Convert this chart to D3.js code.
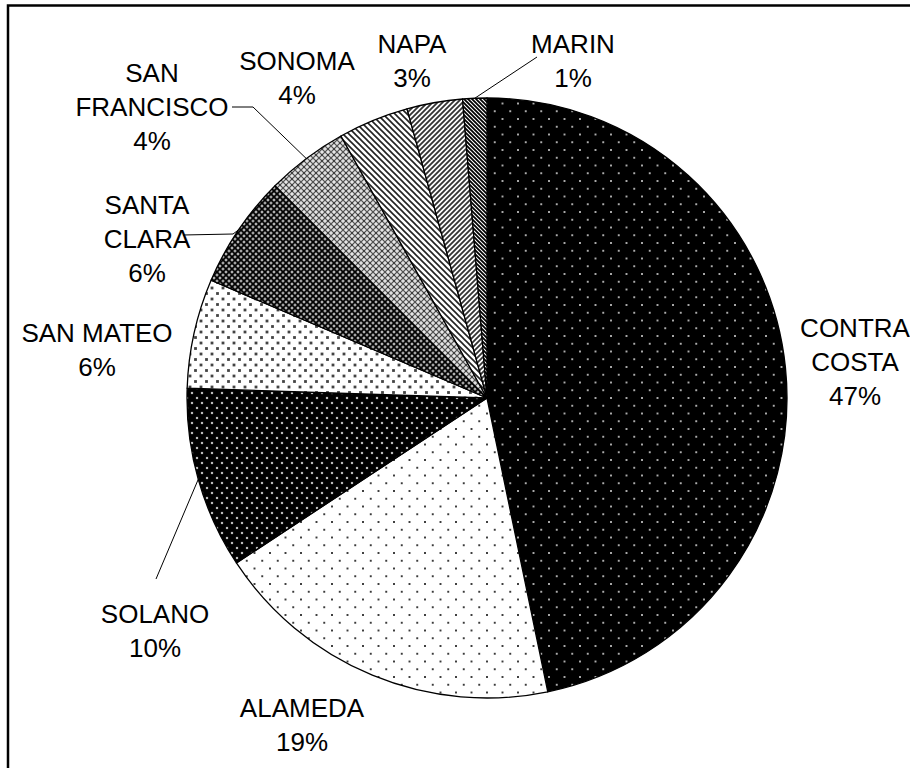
<!DOCTYPE html>
<html>
<head>
<meta charset="utf-8">
<script src="https://cdn.jsdelivr.net/npm/d3@7"></script>
<style>
  html, body { margin: 0; padding: 0; background: #fff; overflow: hidden; }
  svg { display: block; }
  text { font-family: "Liberation Sans", Arial, sans-serif; font-size: 26px; fill: #000; }
</style>
</head>
<body>
<svg id="chart" width="910" height="768"></svg>
<script>
// ---- data ----
const categories = ["CONTRA COSTA", "ALAMEDA", "SOLANO", "SAN MATEO", "SANTA CLARA",
                    "SAN FRANCISCO", "SONOMA", "NAPA", "MARIN"];
const values = [46.8, 19.0, 9.8, 5.9, 6.1, 4.4, 3.8, 3.0, 1.3];
const labelLines = [["CONTRA", "COSTA"], ["ALAMEDA"], ["SOLANO"], ["SAN MATEO"], ["SANTA", "CLARA"],
                    ["SAN", "FRANCISCO"], ["SONOMA"], ["NAPA"], ["MARIN"]];

// ---- layout (not data) ----
const cx = 487, cy = 398, R = 300;
const labelPos = [
  {x: 855, y: 327.5}, {x: 302, y: 707.5}, {x: 155, y: 614}, {x: 97, y: 333},
  {x: 147, y: 205}, {x: 152, y: 73}, {x: 297, y: 61}, {x: 412, y: 44}, {x: 573, y: 44}
];
const lineGap = 34;
const leaderEnds = { // leader polylines from slice edge to label
  "MARIN": [[537, 57]],
  "SAN FRANCISCO": [[253, 107], [232, 107]],
  "SANTA CLARA": [[233, 234], [183, 235]],
  "SOLANO": [[156, 579]]
};

const svg = d3.select("#chart");
const defs = svg.append("defs");

function pat(id, w, h, bg) {
  const p = defs.append("pattern").attr("id", id).attr("patternUnits", "userSpaceOnUse")
    .attr("width", w).attr("height", h);
  p.append("rect").attr("width", w).attr("height", h).attr("fill", bg);
  return p;
}
function dotLattice(p, P, s, color) {
  [[0, 0], [P / 2, P / 2], [P, 0], [0, P], [P, P]].forEach(([x, y]) =>
    p.append("rect").attr("x", x - s / 2).attr("y", y - s / 2).attr("width", s).attr("height", s).attr("fill", color));
}
// Contra Costa: black with sparse white dots
dotLattice(pat("p0", 15.5, 15.5, "#000"), 15.5, 1.7, "#e0e0e0");
// Alameda: white with sparse dark dots
dotLattice(pat("p1", 15.5, 15.5, "#fff"), 15.5, 1.9, "#333");
// Solano: black with dense white dots
dotLattice(pat("p2", 10, 10, "#000"), 10, 2.2, "#bbb");
// San Mateo: white with dense dark dots
dotLattice(pat("p3", 11, 11, "#fff"), 11, 2.8, "#444");
// Santa Clara: dark crosshatch
(function () {
  const p = pat("p4", 6, 6, "#4a4a4a");
  p.append("path").attr("d", "M0,0L6,6M6,0L0,6").attr("stroke", "#000").attr("stroke-width", 1.2);
  p.append("rect").attr("x", 2.3).attr("y", 0).attr("width", 1.4).attr("height", 1.0).attr("fill", "#ddd");
  p.append("rect").attr("x", 0).attr("y", 2.4).attr("width", 1.0).attr("height", 1.2).attr("fill", "#ddd");
  p.append("rect").attr("x", 5).attr("y", 2.4).attr("width", 1.0).attr("height", 1.2).attr("fill", "#ddd");
  p.append("rect").attr("x", 2.3).attr("y", 5).attr("width", 1.4).attr("height", 1.0).attr("fill", "#ddd");
})();
// San Francisco: lighter crosshatch
(function () {
  const p = pat("p5", 6, 6, "#b0b0b0");
  p.append("path").attr("d", "M0,0L6,6M6,0L0,6").attr("stroke", "#555").attr("stroke-width", 1);
  p.append("rect").attr("x", 2.2).attr("y", 2.2).attr("width", 1.6).attr("height", 1.6).attr("fill", "#333");
  p.append("rect").attr("x", 2.3).attr("y", 0).attr("width", 1.4).attr("height", 1.0).attr("fill", "#fff");
  p.append("rect").attr("x", 0).attr("y", 2.4).attr("width", 1.0).attr("height", 1.2).attr("fill", "#fff");
  p.append("rect").attr("x", 5).attr("y", 2.4).attr("width", 1.0).attr("height", 1.2).attr("fill", "#fff");
  p.append("rect").attr("x", 2.3).attr("y", 5).attr("width", 1.4).attr("height", 1.0).attr("fill", "#fff");
})();
// Sonoma: wide downward diagonal
(function () {
  const p = pat("p6", 6, 6, "#fff");
  p.append("path").attr("d", "M-1,-1L7,7M-1,5L1,7M5,-1L7,1").attr("stroke", "#222").attr("stroke-width", 1.6);
})();
// Napa: upward diagonal, medium
(function () {
  const p = pat("p7", 5, 5, "#fff");
  p.append("path").attr("d", "M-1,6L6,-1M-1,1L1,-1M4,6L6,4").attr("stroke", "#333").attr("stroke-width", 1.8);
})();
// Marin: dark downward diagonal
(function () {
  const p = pat("p8", 4, 4, "#fff");
  p.append("path").attr("d", "M-1,-1L5,5M-1,3L1,5M3,-1L5,1").attr("stroke", "#000").attr("stroke-width", 1.8);
})();

// frame
svg.append("rect").attr("x", 8).attr("y", 5.5).attr("width", 1200).attr("height", 1200)
  .attr("fill", "none").attr("stroke", "#000").attr("stroke-width", 2.5);

const pie = d3.pie().sort(null).value(d => d).startAngle(0).endAngle(2 * Math.PI);
const arcs = pie(values);
const arc = d3.arc().innerRadius(0).outerRadius(R);
const total = d3.sum(values);

const g = svg.append("g").attr("transform", `translate(${cx},${cy})`);
g.selectAll("path.slice").data(arcs).enter().append("path")
  .attr("class", "slice")
  .attr("d", arc)
  .attr("fill", (d, i) => `url(#p${i})`)
  .attr("stroke", "#000").attr("stroke-width", 1.3).attr("stroke-linejoin", "round");

// leader lines
arcs.forEach((a, i) => {
  const ends = leaderEnds[categories[i]];
  if (!ends) return;
  const mid = (a.startAngle + a.endAngle) / 2;
  const start = [cx + R * Math.sin(mid), cy - R * Math.cos(mid)];
  svg.append("path").attr("d", d3.line()([start].concat(ends)))
    .attr("fill", "none").attr("stroke", "#000").attr("stroke-width", 1);
});

// labels
const capHalf = 26 * 0.716 / 2;
arcs.forEach((a, i) => {
  const lines = labelLines[i].concat([Math.round(values[i] / total * 100) + "%"]);
  const t = svg.append("text").attr("text-anchor", "middle");
  lines.forEach((s, k) => {
    t.append("tspan").attr("x", labelPos[i].x).attr("y", labelPos[i].y + capHalf + k * lineGap).text(s);
  });
});
</script>
</body>
</html>
